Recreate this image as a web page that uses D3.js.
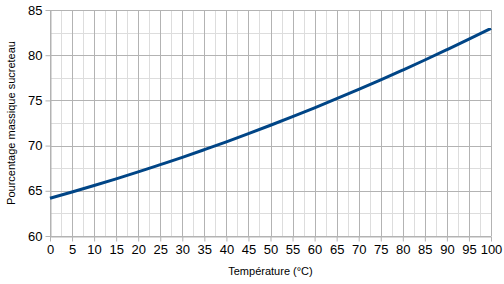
<!DOCTYPE html>
<html>
<head>
<meta charset="utf-8">
<script src="https://cdn.jsdelivr.net/npm/d3@7"></script>
<style>
  body { margin: 0; background: #fff; }
  svg { display: block; font-family: "Liberation Sans", Arial, sans-serif; }
</style>
</head>
<body>
<svg id="chart" width="504" height="284"></svg>
<script>
// data
var temps = [0, 5, 10, 15, 20, 25, 30, 35, 40, 45, 50, 55, 60, 65, 70, 75, 80, 85, 90, 95, 100];
var percents = [64.18, 64.87, 65.58, 66.32, 67.09, 67.89, 68.70, 69.55, 70.42, 71.32, 72.25,
	73.20, 74.18, 75.19, 76.22, 77.27, 78.36, 79.47, 80.61, 81.77, 82.97];
var xTicks = [0, 5, 10, 15, 20, 25, 30, 35, 40, 45, 50, 55, 60, 65, 70, 75, 80, 85, 90, 95, 100];
var yTicks = [60, 65, 70, 75, 80, 85];
var xMinor = [2.5, 7.5, 12.5, 17.5, 22.5, 27.5, 32.5, 37.5, 42.5, 47.5, 52.5, 57.5, 62.5, 67.5,
	72.5, 77.5, 82.5, 87.5, 92.5, 97.5];
var yMinor = [62.5, 67.5, 72.5, 77.5, 82.5];

(function() {

	var svg = d3.select('#chart');
	var plotLeft = 50, plotRight = 491, plotTop = 10, plotBottom = 236;

	var x = d3.scaleLinear().domain([0, 100]).range([plotLeft, plotRight]);
	var y = d3.scaleLinear().domain([60, 85]).range([plotBottom, plotTop]);

	function px(v) { return Math.round(v) + 0.5; }

	var g = svg.append('g');

	// minor grid
	g.selectAll('.vminor').data(xMinor).enter().append('line')
		.attr('x1', function(d) { return px(x(d)); })
		.attr('x2', function(d) { return px(x(d)); })
		.attr('y1', plotTop).attr('y2', plotBottom)
		.attr('stroke', '#dddddd');
	g.selectAll('.hminor').data(yMinor).enter().append('line')
		.attr('y1', function(d) { return px(y(d)); })
		.attr('y2', function(d) { return px(y(d)); })
		.attr('x1', plotLeft).attr('x2', plotRight)
		.attr('stroke', '#dddddd');

	// major grid
	g.selectAll('.vmajor').data(xTicks).enter().append('line')
		.attr('x1', function(d) { return px(x(d)); })
		.attr('x2', function(d) { return px(x(d)); })
		.attr('y1', plotTop).attr('y2', plotBottom)
		.attr('stroke', '#b3b3b3');
	g.selectAll('.hmajor').data(yTicks).enter().append('line')
		.attr('y1', function(d) { return px(y(d)); })
		.attr('y2', function(d) { return px(y(d)); })
		.attr('x1', plotLeft).attr('x2', plotRight)
		.attr('stroke', '#b3b3b3');

	// axes
	var xAxis = svg.append('g')
		.attr('transform', 'translate(0,' + (plotBottom + 0.5) + ')')
		.call(d3.axisBottom(x).tickValues(xTicks).tickSize(5).tickSizeOuter(0).tickPadding(3).tickFormat(d3.format('d')));
	var yAxis = svg.append('g')
		.attr('transform', 'translate(' + (plotLeft + 0.5) + ',0)')
		.call(d3.axisLeft(y).tickValues(yTicks).tickSize(5).tickSizeOuter(0).tickPadding(3).tickFormat(d3.format('d')));

	[xAxis, yAxis].forEach(function(a) {
		a.select('.domain').attr('stroke', '#b3b3b3');
		a.selectAll('.tick line').attr('stroke', '#b3b3b3');
		a.selectAll('.tick text').attr('fill', '#000').style('font-size', '13px')
			.style('font-family', '"Liberation Sans", Arial, sans-serif');
	});

	// curve
	var line = d3.line()
		.x(function(d, i) { return x(temps[i]); })
		.y(function(d) { return y(d); })
		.curve(d3.curveMonotoneX);

	svg.append('path')
		.datum(percents)
		.attr('d', line)
		.attr('fill', 'none')
		.attr('stroke', '#004586')
		.attr('stroke-width', 3);

	// titles
	svg.append('text')
		.attr('x', (plotLeft + plotRight) / 2)
		.attr('y', 275)
		.attr('text-anchor', 'middle')
		.style('font-size', '11px')
		.text('Température (°C)');

	svg.append('text')
		.attr('transform', 'translate(15,' + ((plotTop + plotBottom) / 2) + ') rotate(-90)')
		.attr('text-anchor', 'middle')
		.style('font-size', '11px')
		.text('Pourcentage massique sucreteau');

})()
</script>
</body>
</html>
